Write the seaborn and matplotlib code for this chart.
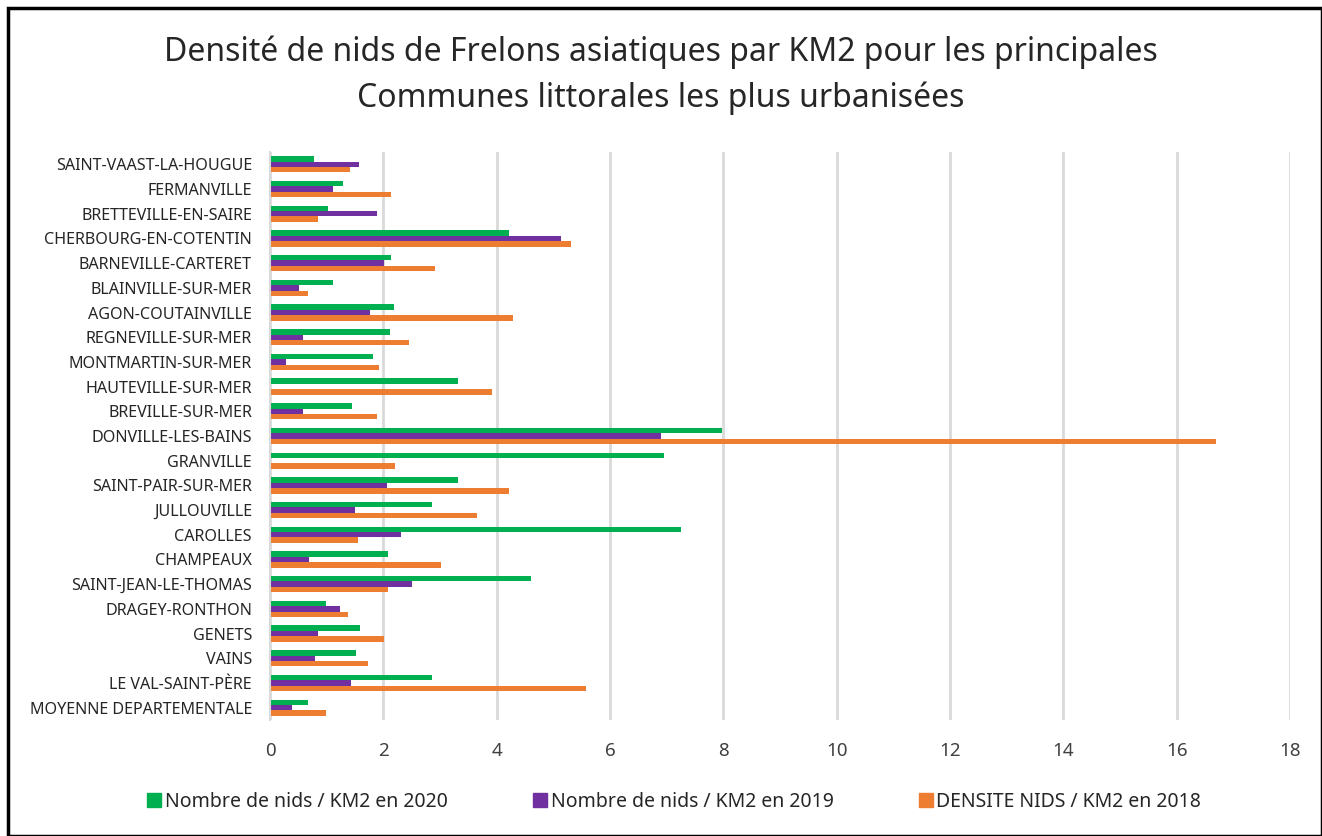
import matplotlib
matplotlib.use("Agg")
import matplotlib.pyplot as plt
import matplotlib.patches as mpatches
import seaborn as sns
import pandas as pd
import numpy as np

# Communes (top to bottom, as in the chart)
communes = [
    "SAINT-VAAST-LA-HOUGUE", "FERMANVILLE", "BRETTEVILLE-EN-SAIRE", "CHERBOURG-EN-COTENTIN",
    "BARNEVILLE-CARTERET", "BLAINVILLE-SUR-MER", "AGON-COUTAINVILLE", "REGNEVILLE-SUR-MER",
    "MONTMARTIN-SUR-MER", "HAUTEVILLE-SUR-MER", "BREVILLE-SUR-MER", "DONVILLE-LES-BAINS",
    "GRANVILLE", "SAINT-PAIR-SUR-MER", "JULLOUVILLE", "CAROLLES", "CHAMPEAUX",
    "SAINT-JEAN-LE-THOMAS", "DRAGEY-RONTHON", "GENETS", "VAINS", "LE VAL-SAINT-PÈRE",
    "MOYENNE DEPARTEMENTALE",
]

# Values (nests / km2)
nids_2020 = [0.78, 1.28, 1.03, 4.22, 2.14, 1.12, 2.18, 2.11, 1.82, 3.31, 1.44, 7.98,
             6.95, 3.31, 2.86, 7.26, 2.09, 4.60, 0.98, 1.59, 1.51, 2.86, 0.67]
nids_2019 = [1.57, 1.12, 1.89, 5.14, 2.02, 0.51, 1.77, 0.58, 0.28, 0.0, 0.58, 6.90,
             0.0, 2.06, 1.50, 2.32, 0.69, 2.50, 1.23, 0.85, 0.80, 1.43, 0.39]
densite_2018 = [1.41, 2.14, 0.85, 5.32, 2.91, 0.67, 4.29, 2.45, 1.93, 3.92, 1.89, 16.70,
                2.20, 4.22, 3.65, 1.55, 3.01, 2.09, 1.37, 2.02, 1.73, 5.57, 0.98]

series_names = ["Nombre de nids / KM2 en 2020", "Nombre de nids / KM2 en 2019",
                "DENSITE NIDS / KM2 en 2018"]
series_colors = ["#00B050", "#7030A0", "#ED7D31"]

df = pd.DataFrame({
    "commune": communes * 3,
    "valeur": nids_2020 + nids_2019 + densite_2018,
    "serie": [series_names[0]] * len(communes) + [series_names[1]] * len(communes)
             + [series_names[2]] * len(communes),
})

sns.set_style("white")
plt.rcParams["font.family"] = ["Noto Sans", "DejaVu Sans"]

fig = plt.figure(figsize=(13.22, 8.36), dpi=100)
ax = fig.add_axes([270 / 1322, 1 - 720 / 836, 1020 / 1322, (720 - 152) / 836])

sns.barplot(data=df, x="valeur", y="commune", hue="serie", order=communes,
            hue_order=series_names, palette=series_colors, orient="h",
            width=0.66, linewidth=0, saturation=1, ax=ax, legend=False)

ax.set_xlim(0, 18)
ax.set_xticks(np.arange(0, 19, 2))
ax.set_ylim(len(communes) - 0.5, -0.5)
ax.xaxis.grid(True, color="#d9d9d9", linewidth=2)
ax.yaxis.grid(False)
ax.set_axisbelow(True)
for side in ["top", "right", "bottom"]:
    ax.spines[side].set_visible(False)
ax.spines["left"].set_color("#d9d9d9")
ax.spines["left"].set_linewidth(1.5)
ax.tick_params(axis="x", length=0, labelsize=13.5, colors="#404040", pad=16)
ax.tick_params(axis="y", length=0, labelsize=11.6, colors="#262626", pad=13)
ax.set_xlabel("")
ax.set_ylabel("")

fig.text(0.5, 1 - 52 / 836, "Densité de nids de Frelons asiatiques par KM2 pour les principales",
         ha="center", va="center", fontsize=23, color="#262626")
fig.text(0.5, 1 - 98 / 836, "Communes littorales les plus urbanisées",
         ha="center", va="center", fontsize=23, color="#262626")

handles = [mpatches.Patch(color=c, label=n) for c, n in zip(series_colors, series_names)]
fig.legend(handles=handles, loc="center", bbox_to_anchor=(0.51, 1 - 802 / 836), ncol=3,
           frameon=False, fontsize=14, handlelength=0.7, handleheight=0.7,
           handletextpad=0.2, columnspacing=4.4)

# outer chart border
fig.patches.append(mpatches.Rectangle((8 / 1322, 0), 1 - 8 / 1322, 1 - 8 / 836,
                                      transform=fig.transFigure, fill=False,
                                      edgecolor="black", linewidth=2.5))

fig.savefig("out.png", dpi=100)
